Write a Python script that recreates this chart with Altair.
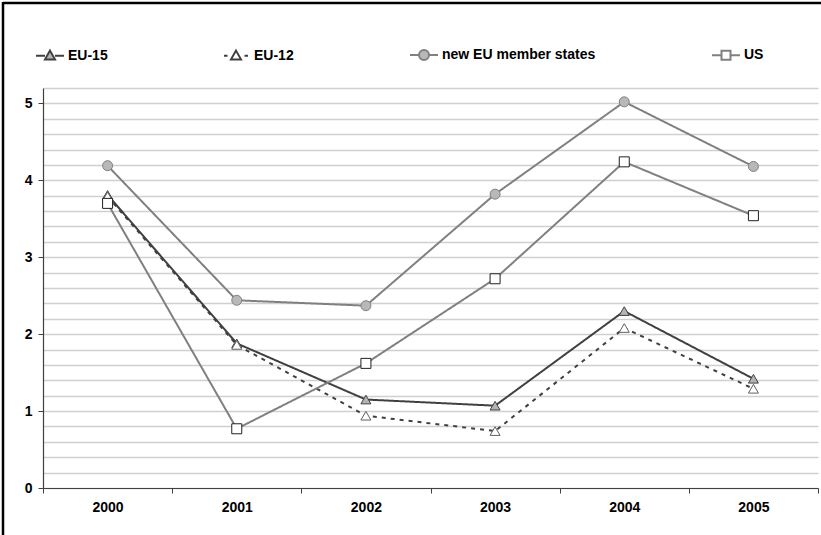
import altair as alt
import pandas as pd

# ---- data -------------------------------------------------------------
years = ["2000", "2001", "2002", "2003", "2004", "2005"]
series_names = ["EU-15", "EU-12", "new EU member states", "US"]
eu15 = [3.81, 1.88, 1.15, 1.07, 2.30, 1.42]
eu12 = [3.79, 1.86, 0.94, 0.74, 2.08, 1.29]
new_eu = [4.19, 2.44, 2.37, 3.82, 5.02, 4.18]
us = [3.70, 0.77, 1.62, 2.72, 4.24, 3.54]
y_ticks = [0, 0.2, 0.4, 0.6, 0.8, 1, 1.2, 1.4, 1.6, 1.8, 2, 2.2, 2.4, 2.6,
           2.8, 3, 3.2, 3.4, 3.6, 3.8, 4, 4.2, 4.4, 4.6, 4.8, 5, 5.2]

values = {"EU-15": eu15, "EU-12": eu12, "new EU member states": new_eu, "US": us}
rows = []
for s in series_names:
    for yr, v in zip(years, values[s]):
        rows.append({"year": yr, "value": v, "series": s})
df = pd.DataFrame(rows)

# ---- styles -----------------------------------------------------------
FONT = "Liberation Sans"
FS = 14
styles = {
    "EU-15": dict(line="#404040", dash=[1, 0], shape="triangle-up", fill="#b4b4b4", stroke="#404040"),
    "EU-12": dict(line="#404040", dash=[4, 5], shape="triangle-up", fill="#ffffff", stroke="#606060"),
    "new EU member states": dict(line="#808080", dash=[1, 0], shape="circle", fill="#b8b8b8", stroke="#808080"),
    "US": dict(line="#808080", dash=[1, 0], shape="square", fill="#ffffff", stroke="#202020"),
}
legend_paths = [
    "M-2.8,0H-1M1,0H2.8M0,-1L1,0.75H-1Z",
    "M-2.4,0H-1.7M1.7,0H2.4M0,-1L1,0.75H-1Z",
    "M-2.8,0H-1M1,0H2.8M-1,0A1,1,0,1,0,1,0A1,1,0,1,0,-1,0Z",
    "M-2.8,0H-0.9M0.9,0H2.8M-0.9,-0.9H0.9V0.9H-0.9Z",
]
legend_fills = [styles[s]["fill"] for s in series_names]
legend_strokes = [styles[s]["line"] for s in series_names]

x_enc = alt.X(
    "year:O",
    bandPosition=0.5,
    scale=alt.Scale(type="band", paddingInner=0, paddingOuter=0),
    axis=alt.Axis(
        title=None, labelAngle=0, tickBand="extent", ticks=True, tickSize=5,
        tickColor="#404040", domainColor="#404040", domainWidth=1.2,
        labelFont=FONT, labelFontSize=FS, labelFontWeight="bold",
        labelColor="#000000", labelPadding=7, grid=False,
    ),
)
y_enc = alt.Y(
    "value:Q",
    scale=alt.Scale(domain=[0, 5.2], nice=False, zero=True),
    axis=alt.Axis(
        title=None, values=y_ticks,
        labelExpr="abs(datum.value - round(datum.value)) < 0.001 ? round(datum.value) : ''",
        tickOpacity={"condition": {"test": "abs(datum.value - round(datum.value)) < 0.001", "value": 1}, "value": 0},
        tickSize=5, tickColor="#404040", domainColor="#404040", domainWidth=1.2,
        labelFont=FONT, labelFontSize=FS, labelFontWeight="bold", labelColor="#000000",
        labelPadding=6, grid=True, gridColor="#d0d0d0", gridWidth=1.5,
    ),
)

base = alt.Chart(df)
layers = []
for s in series_names:
    st = styles[s]
    layers.append(
        base.transform_filter(alt.datum.series == s)
        .mark_line(color=st["line"], strokeWidth=2, strokeDash=st["dash"])
        .encode(x=x_enc, y=y_enc)
    )
for s in series_names:
    st = styles[s]
    layers.append(
        base.transform_filter(alt.datum.series == s)
        .mark_point(shape=st["shape"], filled=True, fill=st["fill"], stroke=st["stroke"],
                    strokeWidth=1, size=100, opacity=1)
        .encode(x=x_enc, y=y_enc)
    )

leg = alt.Legend(
    title=None, orient="none", legendX=0, legendY=-40, direction="horizontal",
    columns=4, columnPadding=112, labelFont=FONT, labelFontSize=FS,
    labelFontWeight="bold", labelColor="#000000", symbolSize=100,
    symbolStrokeWidth=2, labelOffset=11, labelLimit=400,
)
legend_layer = (
    base.transform_filter("false")
    .mark_point(filled=True, size=100, strokeWidth=2, opacity=1)
    .encode(
        x=x_enc, y=y_enc,
        shape=alt.Shape("series:N", scale=alt.Scale(domain=series_names, range=legend_paths), legend=leg),
        fill=alt.Fill("series:N", scale=alt.Scale(domain=series_names, range=legend_fills), legend=leg),
        stroke=alt.Stroke("series:N", scale=alt.Scale(domain=series_names, range=legend_strokes), legend=leg),
    )
)
layers.append(legend_layer)

# outer frame (top & left edges visible in the reference)
one = alt.Chart(pd.DataFrame({"k": [0]}))
frame_top = one.mark_rule(color="#000000", strokeWidth=2.5).encode(
    x=alt.value(-40), x2=alt.value(790), y=alt.value(-85))
frame_left = one.mark_rule(color="#000000", strokeWidth=2.5).encode(
    x=alt.value(-40), y=alt.value(-86), y2=alt.value(460))
layers += [frame_top, frame_left]

chart = alt.layer(*layers).properties(
    width=775, height=400,
    autosize=alt.AutoSizeParams(type="none"),
    padding={"left": 43, "top": 88, "right": 3, "bottom": 47},
    background="#ffffff",
).configure_view(stroke=None)

chart.save("out.html", embed_options={"renderer": "svg", "actions": False})
